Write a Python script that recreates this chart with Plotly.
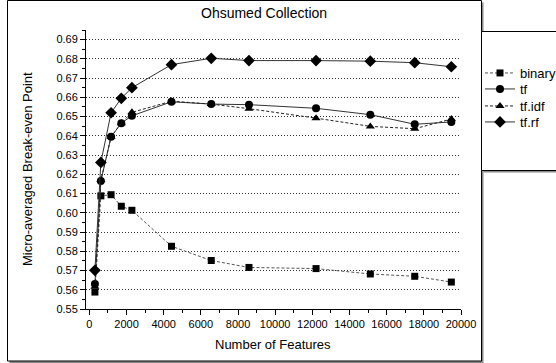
import plotly.graph_objects as go

# ---- data ----
features = [300, 620, 1170, 1720, 2290, 4420, 6560, 8590, 12200, 15120, 17510, 19480]
binary = [0.5588, 0.6088, 0.6094, 0.6034, 0.6013, 0.5826, 0.5752, 0.5716, 0.5710, 0.5682, 0.5670, 0.5640]
tf = [0.5630, 0.6165, 0.6395, 0.6466, 0.6504, 0.6577, 0.6565, 0.6562, 0.6543, 0.6510, 0.6460, 0.6472]
tfidf = [0.5615, 0.6170, 0.6395, 0.6466, 0.6522, 0.6580, 0.6565, 0.6541, 0.6492, 0.6449, 0.6437, 0.6487]
tfrf = [0.5701, 0.6262, 0.6520, 0.6595, 0.6650, 0.6770, 0.6803, 0.6791, 0.6791, 0.6788, 0.6780, 0.6759]
series_names = ["binary", "tf", "tf.idf", "tf.rf"]
x_ticks = list(range(0, 20001, 2000))
x_tick_labels = [str(v) for v in x_ticks]

W, H = 556, 363
L, R, T, B = 86, 95, 30, 54
PW = W - L - R
PH = H - T - B


def fx(px):
    return (px - L) / PW


def fy(py):
    return (H - B - py) / PH


FONT = "Liberation Sans, Arial, sans-serif"

fig = go.Figure()
styles = [
    dict(symbol="square", size=7, dash="3px,2px", color="#555"),
    dict(symbol="circle", size=8, dash="solid", color="#333"),
    dict(symbol="triangle-up", size=8, dash="3px,2px", color="#222"),
    dict(symbol="diamond", size=9, dash="solid", color="#333"),
]
legend_ids = ["legend", "legend2", "legend3", "legend4"]
for name, ys, st, lid in zip(series_names, [binary, tf, tfidf, tfrf], styles, legend_ids):
    fig.add_trace(go.Scatter(
        x=features, y=ys, name=name, mode="lines+markers",
        line=dict(color=st["color"], width=1, dash=st["dash"]),
        marker=dict(symbol=st["symbol"], size=st["size"], color="black",
                    line=dict(width=0)),
        legend=lid, cliponaxis=False,
    ))

shapes = [
    dict(type="rect", xref="paper", yref="paper", x0=fx(9.5), x1=fx(483.5), y0=fy(2.5), y1=fy(363),
         fillcolor="#8a8a8a", line=dict(width=0), layer="below"),
    dict(type="rect", xref="paper", yref="paper", x0=fx(7.5), x1=fx(481.5), y0=fy(0.5), y1=fy(361),
         fillcolor="white", line=dict(color="black", width=1), layer="below"),
    dict(type="rect", xref="paper", yref="paper", x0=fx(483.5), x1=fx(570), y0=fy(33.5), y1=fy(172.5),
         fillcolor="#8a8a8a", line=dict(width=0), layer="below"),
    dict(type="rect", xref="paper", yref="paper", x0=fx(481.5), x1=fx(570), y0=fy(31.5), y1=fy(170.5),
         fillcolor="white", line=dict(color="black", width=1), layer="below"),
]

annotations = [
    dict(text="Ohsumed Collection", x=fx(264), y=fy(13), xref="paper", yref="paper",
         showarrow=False, xanchor="center", yanchor="middle", font=dict(size=14, color="black", family=FONT)),
    dict(text="Number of Features", x=fx(273), y=fy(344), xref="paper", yref="paper",
         showarrow=False, xanchor="center", yanchor="middle", font=dict(size=13, color="black", family=FONT)),
    dict(text="Micro-averaged Break-even Point", x=fx(27), y=fy(169), xref="paper", yref="paper",
         showarrow=False, xanchor="center", yanchor="middle", textangle=-90,
         font=dict(size=13, color="black", family=FONT)),
]

legend_centers = [73, 89, 106, 122]
leg_layout = {}
for lid, cy in zip(legend_ids, legend_centers):
    leg_layout[lid] = dict(x=fx(480), xanchor="left", y=fy(cy), yanchor="middle",
                           bgcolor="rgba(0,0,0,0)", borderwidth=0,
                           font=dict(size=13, color="black", family=FONT))

fig.update_layout(
    width=W, height=H,
    margin=dict(l=L, r=R, t=T, b=B, pad=0, autoexpand=False),
    paper_bgcolor="white", plot_bgcolor="rgba(0,0,0,0)",
    font=dict(family=FONT, color="black"),
    shapes=shapes, annotations=annotations,
    showlegend=True,
    **leg_layout,
)

fig.update_xaxes(
    range=[-180, 20000], tickmode="array", tickvals=x_ticks, ticktext=x_tick_labels,
    showline=True, linecolor="black", linewidth=1, mirror=False,
    ticks="outside", ticklen=5, tickcolor="black", tickwidth=1,
    minor=dict(ticks="outside", ticklen=3, dtick=1000, tick0=0, tickcolor="black", showgrid=False),
    showgrid=False, zeroline=False, tickfont=dict(size=11, family=FONT, color="black"),
)
fig.update_yaxes(
    range=[0.55, 0.695], tick0=0.55, dtick=0.01, tickformat=".2f",
    showline=True, linecolor="black", linewidth=1, mirror=False,
    ticks="outside", ticklen=5, tickcolor="black", tickwidth=1,
    minor=dict(ticks="outside", ticklen=3, dtick=0.005, tick0=0.55, tickcolor="black", showgrid=False),
    showgrid=True, gridcolor="#333", gridwidth=1, griddash="1px,2px",
    zeroline=False, tickfont=dict(size=11, family=FONT, color="black"),
)

fig.write_html("out.html")
